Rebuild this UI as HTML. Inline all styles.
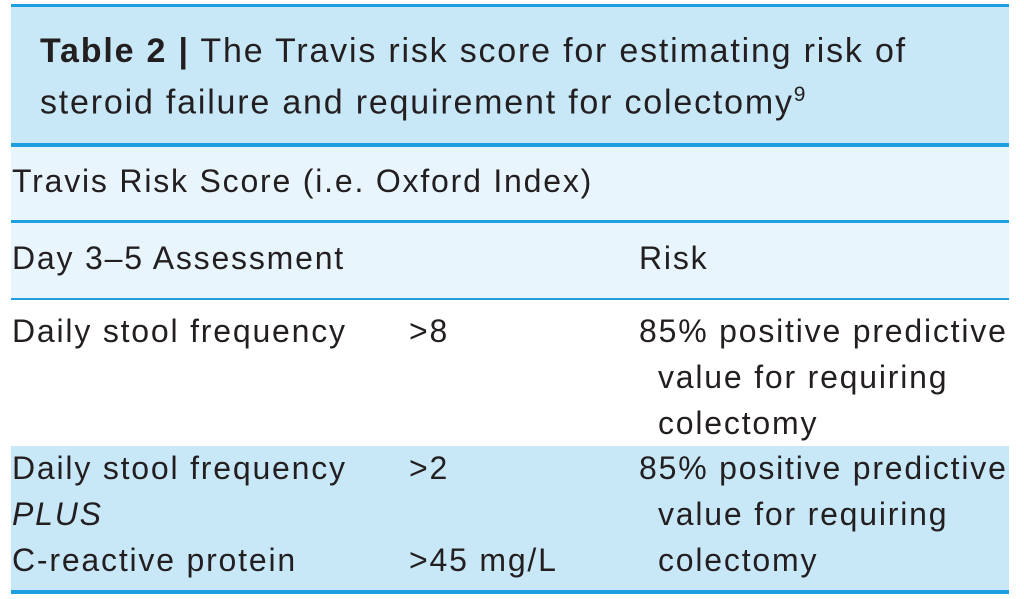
<!DOCTYPE html>
<html><head><meta charset="utf-8"><style>
body{margin:0;width:1024px;height:599px;background:#fff;position:relative;overflow:hidden;font-family:"Liberation Sans",sans-serif;color:#231f20}
.b{position:absolute;left:11px;width:998px}
.t{position:absolute;font-size:32px;letter-spacing:1.8px;white-space:nowrap;line-height:1}
</style></head><body>
<div class="b" style="top:4px;height:3px;background:#1ea0e0"></div>
<div class="b" style="top:7px;height:136px;background:#c8e8f8"></div>
<div class="b" style="top:143px;height:4px;background:#1ea0e0"></div>
<div class="b" style="top:147px;height:73px;background:#e8f5fc"></div>
<div class="b" style="top:220px;height:3px;background:#1ea0e0"></div>
<div class="b" style="top:223px;height:75px;background:#e8f5fc"></div>
<div class="b" style="top:298px;height:2px;background:#1ea0e0"></div>
<div class="b" style="top:446px;height:144px;background:#c8e8f8"></div>
<div class="b" style="top:590px;height:4px;background:#1ea0e0"></div>

<div class="t" style="left:40px;top:34px;font-size:34px"><b>Table 2 |</b> The Travis risk score for estimating risk of</div>
<div class="t" style="left:40px;top:84px;font-size:34px">steroid failure and requirement for colectomy<sup style="font-size:21px">9</sup></div>
<div class="t" style="left:12px;top:165px">Travis Risk Score (i.e. Oxford Index)</div>
<div class="t" style="left:12px;top:242px">Day 3–5 Assessment</div>
<div class="t" style="left:639px;top:242px">Risk</div>

<div class="t" style="left:12px;top:315px">Daily stool frequency</div>
<div class="t" style="left:409px;top:315px">&gt;8</div>
<div class="t" style="left:639px;top:315px">85% positive predictive</div>
<div class="t" style="left:658px;top:361px">value for requiring</div>
<div class="t" style="left:658px;top:407px">colectomy</div>

<div class="t" style="left:12px;top:452px">Daily stool frequency</div>
<div class="t" style="left:409px;top:452px">&gt;2</div>
<div class="t" style="left:12px;top:498px;font-style:italic">PLUS</div>
<div class="t" style="left:12px;top:544px">C-reactive protein</div>
<div class="t" style="left:409px;top:544px">&gt;45 mg/L</div>
<div class="t" style="left:639px;top:452px">85% positive predictive</div>
<div class="t" style="left:658px;top:498px">value for requiring</div>
<div class="t" style="left:658px;top:544px">colectomy</div>
</body></html>
